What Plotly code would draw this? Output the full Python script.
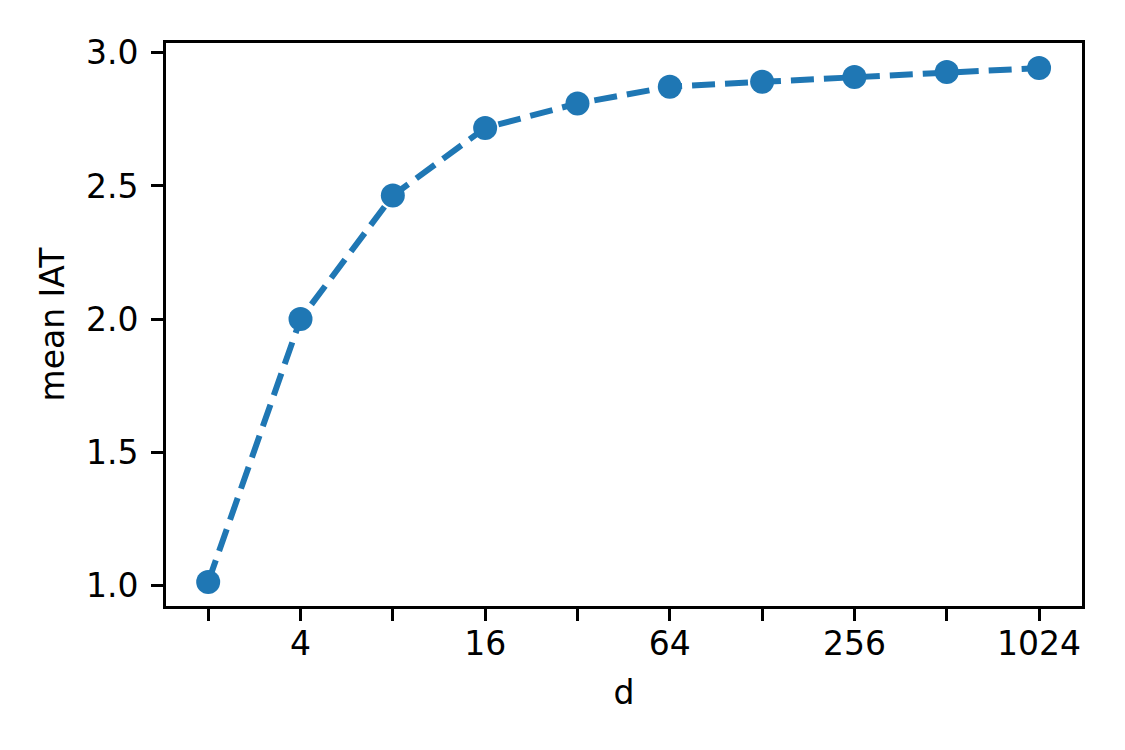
import math
import plotly.graph_objects as go

d_values = [2, 4, 8, 16, 32, 64, 128, 256, 512, 1024]
mean_iat = [1.012, 2.0, 2.464, 2.718, 2.810, 2.873, 2.891, 2.909, 2.928, 2.943]
x_tick_vals = [2, 4, 8, 16, 32, 64, 128, 256, 512, 1024]
x_tick_text = ["", "4", "", "16", "", "64", "", "256", "", "1024"]
y_tick_vals = [1.0, 1.5, 2.0, 2.5, 3.0]
y_tick_text = ["1.0", "1.5", "2.0", "2.5", "3.0"]

color = "#1f77b4"
font = dict(family="DejaVu Sans", size=33, color="black")

fig = go.Figure(
    go.Scatter(
        x=d_values,
        y=mean_iat,
        mode="lines+markers",
        line=dict(color=color, width=6, dash="23px,10px"),
        marker=dict(color=color, size=24),
    )
)

fig.update_layout(
    width=1125,
    height=750,
    margin=dict(l=158, r=51, t=35, b=152, autoexpand=False),
    paper_bgcolor="white",
    plot_bgcolor="white",
    showlegend=False,
    font=font,
)

fig.update_xaxes(
    type="log",
    range=[math.log10(2) * 0.543, math.log10(2) * 10.465],
    tickvals=x_tick_vals,
    ticktext=x_tick_text,
    ticks="outside",
    ticklen=12,
    tickwidth=3,
    tickcolor="black",
    showline=True,
    linewidth=3,
    linecolor="black",
    mirror=True,
    showgrid=False,
    zeroline=False,
    automargin=False,
    tickfont=font,
    ticklabelstandoff=-6,
    title=dict(text="d", font=font, standoff=20),
)

fig.update_yaxes(
    range=[0.922, 3.037],
    tickvals=y_tick_vals,
    ticktext=y_tick_text,
    ticks="outside",
    ticklen=12,
    tickwidth=3,
    tickcolor="black",
    showline=True,
    linewidth=3,
    linecolor="black",
    mirror=True,
    showgrid=False,
    zeroline=False,
    automargin=False,
    tickfont=font,
    ticklabelstandoff=6,
    title=dict(text="mean IAT", font=font, standoff=12),
)

fig.write_html("out.html")
